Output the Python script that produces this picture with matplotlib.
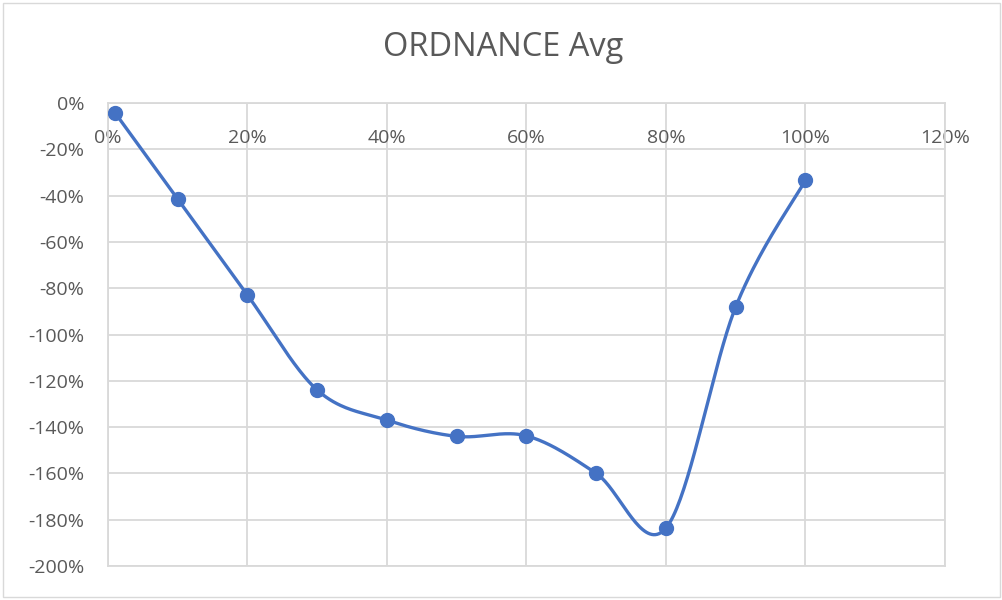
import numpy as np
import matplotlib
matplotlib.use("Agg")
import matplotlib.pyplot as plt
from matplotlib.ticker import FuncFormatter

plt.rcParams['font.family'] = ['Open Sans', 'DejaVu Sans']

# Data (fractions)
x_vals = [0.01, 0.10, 0.20, 0.30, 0.40, 0.50, 0.60, 0.70, 0.80, 0.90, 1.00]
y_vals = [-0.042, -0.415, -0.83, -1.24, -1.37, -1.44, -1.438, -1.60, -1.836, -0.88, -0.333]
title = "ORDNANCE Avg"
x_ticks = [0, 0.2, 0.4, 0.6, 0.8, 1.0, 1.2]
y_ticks = [0, -0.2, -0.4, -0.6, -0.8, -1.0, -1.2, -1.4, -1.6, -1.8, -2.0]

color = "#4472C4"
grid_c = "#D9D9D9"
txt_c = "#595959"


def smooth(xs, ys, n=40):
    xs = np.asarray(xs, float); ys = np.asarray(ys, float)
    P = np.column_stack([xs, ys])
    out = []
    for i in range(len(P) - 1):
        p0 = P[i - 1] if i > 0 else P[i]
        p1 = P[i]; p2 = P[i + 1]
        p3 = P[i + 2] if i + 2 < len(P) else P[i + 1]
        c1 = p1 + (p2 - p0) / 6.0
        c2 = p2 - (p3 - p1) / 6.0
        t = np.linspace(0, 1, n)[:, None]
        seg = (1 - t) ** 3 * p1 + 3 * (1 - t) ** 2 * t * c1 + 3 * (1 - t) * t ** 2 * c2 + t ** 3 * p2
        out.append(seg if i == 0 else seg[1:])
    S = np.vstack(out)
    return S[:, 0], S[:, 1]


fig = plt.figure(figsize=(10.03, 6.0), dpi=100)
fig.patches.append(plt.Rectangle((0.003, 0.005), 0.994, 0.99, transform=fig.transFigure,
                                 fill=False, edgecolor=grid_c, linewidth=1))
ax = fig.add_axes([108 / 1003, 34 / 600, 837 / 1003, 463 / 600])

sx, sy = smooth(x_vals, y_vals)
ax.plot(sx, sy, color=color, linewidth=2.4, solid_capstyle="round", zorder=3)
ax.plot(x_vals, y_vals, "o", color=color, markersize=10, zorder=4)

ax.set_xlim(0, 1.2)
ax.set_ylim(-2.0, 0)
ax.set_xticks(x_ticks)
ax.set_yticks(y_ticks)
pct = FuncFormatter(lambda v, p: f"{round(v * 100):d}%")
ax.xaxis.set_major_formatter(pct)
ax.yaxis.set_major_formatter(pct)
ax.grid(True, color=grid_c, linewidth=1.3)
ax.set_axisbelow(True)
for s in ax.spines.values():
    s.set_color(grid_c)
    s.set_linewidth(1.3)

ax.xaxis.tick_top()
ax.tick_params(axis="x", length=0, pad=-32, labelsize=14, labelcolor=txt_c)
ax.tick_params(axis="y", length=0, pad=17, labelsize=14, labelcolor=txt_c)

fig.text(503 / 1003, 1 - 47 / 600, title, ha="center", va="center", fontsize=23.5, color=txt_c)

fig.savefig("out.png", dpi=100)
